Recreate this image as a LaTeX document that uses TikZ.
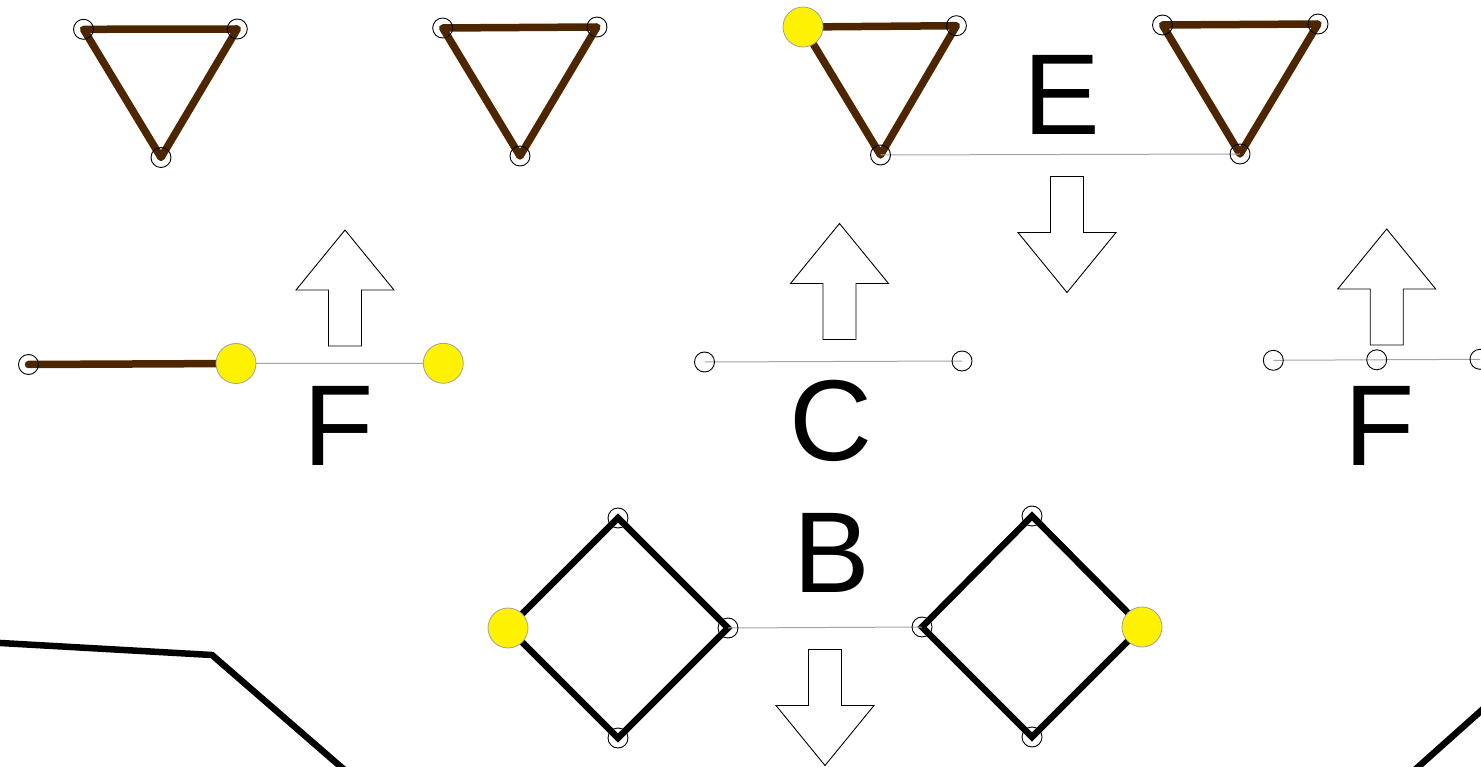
\documentclass[tikz,border=0pt]{standalone}
\usepackage{fontspec}
\setmainfont{Liberation Sans}
\usetikzlibrary{backgrounds}
\definecolor{brownline}{RGB}{77,38,0}
\definecolor{thingray}{RGB}{165,165,165}
\definecolor{hotring}{RGB}{160,160,160}
\begin{document}
\begin{tikzpicture}[x=1pt,y=-1pt,
  vtx/.style={circle,draw=black,line width=0.9pt,minimum size=20pt,inner sep=0pt},
  hot/.style={circle,draw=hotring,fill=yellow,line width=0.8pt,minimum size=40pt,inner sep=0pt},
  brownedge/.style={draw=brownline,line width=7.5pt,line cap=round,line join=round},
  heavy/.style={draw=black,line width=6.5pt,line join=miter},
  link/.style={draw=thingray,line width=1pt},
  blockarrow/.style={draw=black,fill=white,line width=0.9pt,line join=miter},
  bigletter/.style={inner sep=0pt,font=\fontsize{115}{115}\selectfont},
  uparr/.pic={\draw[blockarrow] (0,0) -- (49,60) -- (16.5,60) -- (16.5,116) -- (-16.5,116) -- (-16.5,60) -- (-49,60) -- cycle;},
  downarr/.pic={\draw[blockarrow] (0,0) -- (49,-60) -- (16.5,-60) -- (16.5,-116) -- (-16.5,-116) -- (-16.5,-60) -- (-49,-60) -- cycle;}
]
\useasboundingbox (0,0) rectangle (1481,767);

% ---------- top row: triangles ----------
\node[vtx] (t1a) at (83.5,29.3) {};
\node[vtx] (t1b) at (237.3,29) {};
\node[vtx] (t1c) at (161,157.5) {};
\node[vtx] (t2a) at (442.7,28) {};
\node[vtx] (t2b) at (597,27) {};
\node[vtx] (t2c) at (520,156) {};
\node[vtx] (t3b) at (956.4,25.7) {};
\node[vtx] (t3c) at (880.5,155) {};
\node[vtx] (t4a) at (1162.5,25) {};
\node[vtx] (t4b) at (1318,24) {};
\node[vtx] (t4c) at (1240,154) {};
\node[hot] (t3a) at (803,27) {};

% ---------- middle row ----------
\node[vtx] (m1a) at (28.5,364.5) {};
\node[hot] (m1b) at (236,363.5) {};
\node[hot] (m1c) at (443.3,363.3) {};
\node[vtx] (m2a) at (704.5,362) {};
\node[vtx] (m2b) at (962,361) {};
\node[vtx] (m3a) at (1273.3,360.3) {};
\node[vtx] (m3b) at (1376.7,359.8) {};
\node[vtx] (m3c) at (1480,359.3) {};

% ---------- bottom row: diamonds ----------
\node[vtx] (d1t) at (618,518) {};
\node[vtx] (d1r) at (728,628) {};
\node[vtx] (d1b) at (618,738) {};
\node[vtx] (d2t) at (1032,516) {};
\node[vtx] (d2l) at (922,627) {};
\node[vtx] (d2b) at (1032,737) {};
\node[hot] (d1l) at (508,628) {};
\node[hot] (d2r) at (1142,627) {};

% ---------- connectors (behind nodes) ----------
\begin{scope}[on background layer]
  \draw[brownedge] (t1a.center) -- (t1b.center) -- (t1c.center) -- cycle;
  \draw[brownedge] (t2a.center) -- (t2b.center) -- (t2c.center) -- cycle;
  \draw[brownedge] (t3a.center) -- (t3b.center) -- (t3c.center) -- cycle;
  \draw[brownedge] (t4a.center) -- (t4b.center) -- (t4c.center) -- cycle;
  \draw[link] (t3c.center) -- (t4c.center);
  \draw[brownedge] (m1a.center) -- (m1b.center);
  \draw[link] (m1b.center) -- (m1c.center);
  \draw[link] (m2a.center) -- (m2b.center);
  \draw[link] (m3a.center) -- (m3b.center) -- (m3c.center);
  \draw[heavy] (d1t.center) -- (d1r.center) -- (d1b.center) -- (d1l.center) -- cycle;
  \draw[heavy] (d2t.center) -- (d2r.center) -- (d2b.center) -- (d2l.center) -- cycle;
  \draw[link] (d1r.center) -- (d2l.center);
\end{scope}

% ---------- block arrows ----------
\pic at (345,230) {uparr};
\pic at (839.5,223.5) {uparr};
\pic at (1386.7,229) {uparr};
\pic at (1067,292.5) {downarr};
\pic at (825,765.5) {downarr};

% ---------- letters ----------
\node[bigletter] (lblE) at (1062,94.5) {E};
\node[bigletter] (lblF1) at (338.5,426) {F};
\node[bigletter] (lblC) at (831,420.5) {C};
\node[bigletter] (lblF2) at (1379.5,426) {F};
\node[bigletter] (lblB) at (832,553) {B};

% ---------- partial outlines at the bottom edges ----------
\coordinate (pa) at (-10,642.4);
\coordinate (pb) at (212,655);
\coordinate (pc) at (348,773);
\draw[heavy] (pa) -- (pb) -- (pc);
\coordinate (qa) at (1492,701);
\coordinate (qb) at (1408,776);
\draw[heavy] (qa) -- (qb);
\end{tikzpicture}
\end{document}
